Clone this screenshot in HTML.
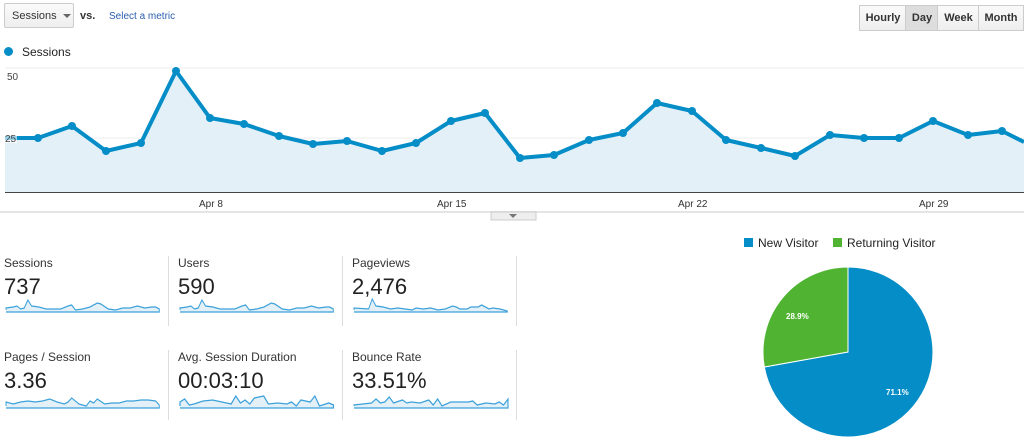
<!DOCTYPE html>
<html><head><style>
body{margin:0;width:1024px;height:439px;background:#fff;font-family:"Liberation Sans",sans-serif;position:relative;overflow:hidden;color:#222}
.a{position:absolute}
.lbl{font-size:12px;color:#333}
.val{font-size:22px;color:#222}
.vl{position:absolute;width:1px;background:#ddd}
.btn{position:absolute;top:5px;height:24px;border:1px solid #ccc;background:linear-gradient(#fafafa,#eee);font-size:11px;font-weight:bold;color:#333;line-height:24px;text-align:center}
</style></head><body>
<div class="a" style="left:4px;top:3px;width:70px;height:25px;border:1px solid #ccc;border-radius:2px;background:linear-gradient(#fafafa,#eee);font-size:11px;line-height:25px;padding-left:7px;box-sizing:border-box;color:#333">Sessions <span style="position:absolute;left:58px;top:10px;border:4px solid transparent;border-top:4px solid #666;width:0;height:0;line-height:0"></span></div>
<div class="a" style="left:80px;top:10px;font-size:11px;font-weight:bold;color:#333">vs.</div>
<div class="a" style="left:109px;top:11px;font-size:10px;color:#2a5db0">Select a metric</div>
<div class="btn" style="left:859px;width:46px">Hourly</div>
<div class="btn" style="left:905px;width:32px;background:#ddd">Day</div>
<div class="btn" style="left:937px;width:41px">Week</div>
<div class="btn" style="left:978px;width:44px">Month</div>
<div class="a" style="left:4px;top:47px;width:9px;height:9px;border-radius:50%;background:#058dc7"></div>
<div class="a" style="left:22px;top:45px;font-size:12px;color:#222">Sessions</div>
<svg class="a" style="left:0;top:60px" width="1024" height="170">
<line x1="5" y1="8" x2="1024" y2="8" stroke="#eee"/>
<line x1="5" y1="78" x2="1024" y2="78" stroke="#eee"/>
<polygon fill="#e3f0f7" points="5,132 5,78 38,78 72,66 106,91 141,83 176,11 210,58 244,64 279,76 313,84 347,81 382,91 416,83 451,61 485,53 520,98 554,95 589,80 623,73 657,43 692,51 726,80 761,88 795,96 830,75 864,78 899,78 933,61 968,75 1002,71 1024,82 1024,132"/>
<polyline fill="none" stroke="#058dc7" stroke-width="4" stroke-linejoin="round" points="5,78 38,78 72,66 106,91 141,83 176,11 210,58 244,64 279,76 313,84 347,81 382,91 416,83 451,61 485,53 520,98 554,95 589,80 623,73 657,43 692,51 726,80 761,88 795,96 830,75 864,78 899,78 933,61 968,75 1002,71 1024,82"/>
<g fill="#058dc7"><circle cx="38" cy="78" r="4"/><circle cx="72" cy="66" r="4"/><circle cx="106" cy="91" r="4"/><circle cx="141" cy="83" r="4"/><circle cx="176" cy="11" r="4"/><circle cx="210" cy="58" r="4"/><circle cx="244" cy="64" r="4"/><circle cx="279" cy="76" r="4"/><circle cx="313" cy="84" r="4"/><circle cx="347" cy="81" r="4"/><circle cx="382" cy="91" r="4"/><circle cx="416" cy="83" r="4"/><circle cx="451" cy="61" r="4"/><circle cx="485" cy="53" r="4"/><circle cx="520" cy="98" r="4"/><circle cx="554" cy="95" r="4"/><circle cx="589" cy="80" r="4"/><circle cx="623" cy="73" r="4"/><circle cx="657" cy="43" r="4"/><circle cx="692" cy="51" r="4"/><circle cx="726" cy="80" r="4"/><circle cx="761" cy="88" r="4"/><circle cx="795" cy="96" r="4"/><circle cx="830" cy="75" r="4"/><circle cx="864" cy="78" r="4"/><circle cx="899" cy="78" r="4"/><circle cx="933" cy="61" r="4"/><circle cx="968" cy="75" r="4"/><circle cx="1002" cy="71" r="4"/></g>
<text x="7" y="20" font-size="10" fill="#444">50</text>
<rect x="5" y="72" width="12" height="11" fill="#fff" opacity="0.6"/>
<text x="5" y="82" font-size="10" fill="#444">25</text>
<line x1="5" y1="132.5" x2="1024" y2="132.5" stroke="#444"/>
<text x="199" y="147" font-size="10" fill="#333">Apr 8</text>
<text x="437" y="147" font-size="10" fill="#333">Apr 15</text>
<text x="678" y="147" font-size="10" fill="#333">Apr 22</text>
<text x="919" y="147" font-size="10" fill="#333">Apr 29</text>
<line x1="0" y1="152" x2="1024" y2="152" stroke="#e5e5e5" stroke-width="2"/>
<rect x="491" y="152" width="45" height="8" fill="#eee" stroke="#ccc"/>
<polygon points="509,154 517,154 513,158" fill="#777"/>
</svg>
<div class="a lbl" style="left:4px;top:256px">Sessions</div><div class="a val" style="left:4px;top:274px">737</div>
<div class="a lbl" style="left:178px;top:256px">Users</div><div class="a val" style="left:178px;top:274px">590</div>
<div class="a lbl" style="left:352px;top:256px">Pageviews</div><div class="a val" style="left:352px;top:274px">2,476</div>
<div class="a lbl" style="left:4px;top:350px">Pages / Session</div><div class="a val" style="left:4px;top:368px">3.36</div>
<div class="a lbl" style="left:178px;top:350px">Avg. Session Duration</div><div class="a val" style="left:178px;top:368px">00:03:10</div>
<div class="a lbl" style="left:352px;top:350px">Bounce Rate</div><div class="a val" style="left:352px;top:368px">33.51%</div>
<div class="vl" style="left:168px;top:256px;height:70px"></div><div class="vl" style="left:342px;top:256px;height:70px"></div><div class="vl" style="left:516px;top:256px;height:70px"></div>
<div class="vl" style="left:168px;top:350px;height:70px"></div><div class="vl" style="left:342px;top:350px;height:70px"></div><div class="vl" style="left:516px;top:350px;height:70px"></div>
<svg class="a" style="left:0;top:0" width="530" height="439" fill="#e3f0f7" stroke="#3ba1da" stroke-width="1.3">
<g transform="translate(6,298) scale(0.73,1)"><polyline points="0,12 0,10 10,9 15,8 20,11 25,10 30,2 35,8 45,9 55,11 65,11 75,11 85,8 90,7 95,12 105,11 115,9 125,5 130,6 140,11 150,12 160,10 170,10 180,8 190,10 200,9 205,9 210,11 210,14 0,14" /></g>
<g transform="translate(180,298) scale(0.73,1)"><polyline points="0,12 0,10 10,9 15,8 20,11 25,10 30,2 35,8 45,9 55,11 65,11 75,11 85,8 90,7 95,12 105,11 115,9 125,5 130,6 140,11 150,12 160,10 170,10 180,8 190,10 200,9 205,9 210,11 210,14 0,14"/></g>
<g transform="translate(354,298) scale(0.73,1)"><polyline points="0,12 0,10 20,11 25,1 30,8 40,9 50,11 60,10 70,11 80,12 85,10 95,11 105,10 115,12 125,11 135,8 140,9 145,11 155,11 160,9 170,9 175,7 180,9 185,11 190,10 200,11 210,13 210,14 0,14"/></g>
<g transform="translate(6,392) scale(0.73,1)"><polyline points="0,14 0,10 10,12 15,11 20,10 30,9 40,10 50,9 60,7 70,10 80,12 85,10 90,6 100,12 110,14 115,9 120,11 125,7 135,12 145,11 155,11 165,9 175,9 185,8 195,8 205,9 210,13 210,16 0,16"/></g>
<g transform="translate(180,392) scale(0.93,1)"><polyline points="0,14 0,10 5,7 10,13 15,12 25,9 35,8 45,10 55,12 60,4 65,11 70,8 75,12 80,6 90,4 95,12 105,11 115,12 120,10 125,14 130,8 140,10 145,4 150,14 160,11 165,13 165,16 0,16"/></g>
<g transform="translate(354,392) scale(0.88,1)"><polyline points="0,14 0,13 10,12 20,11 25,7 30,11 35,10 40,5 45,11 55,8 60,11 65,10 75,11 85,8 90,13 95,7 100,14 110,10 120,10 130,10 135,9 140,13 150,11 160,12 165,10 170,13 175,7 175,16 0,16"/></g>
</svg>
<div class="a" style="left:744px;top:238px;width:9px;height:9px;background:#058dc7"></div>
<div class="a" style="left:758px;top:236px;font-size:12px">New Visitor</div>
<div class="a" style="left:833px;top:238px;width:9px;height:9px;background:#50b432"></div>
<div class="a" style="left:847px;top:236px;font-size:12px">Returning Visitor</div>
<svg class="a" style="left:0;top:0" width="1024" height="439">
<path d="M848,352 L848,267 A85,85 0 1 1 764.3,367 Z" fill="#058dc7" stroke="#fff"/>
<path d="M848,352 L764.3,367 A85,85 0 0 1 848,267 Z" fill="#50b432" stroke="#fff"/>
<text x="786" y="319" font-size="8" fill="#fff" font-weight="bold">28.9%</text>
<text x="886" y="395" font-size="8" fill="#fff" font-weight="bold">71.1%</text>
</svg>
</body></html>
